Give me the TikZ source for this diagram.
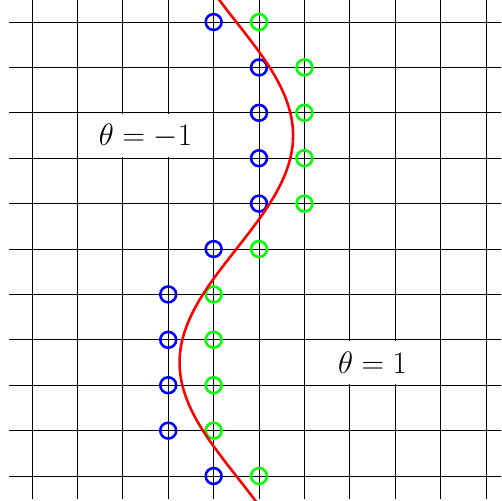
\RequirePackage{fix-cm}
\documentclass[tikz,border=0pt]{standalone}
\begin{document}
\begin{tikzpicture}[
  gridline/.style={line width=0.5pt, black},
  bdot/.style={circle, draw=blue, line width=1.6pt, minimum size=0.35cm, inner sep=0pt},
  gdot/.style={bdot, draw=green},
  lbl/.style={fill=white, font=\fontsize{19.5}{22}\selectfont, inner xsep=5pt, inner ysep=2pt, minimum height=0.93cm},
  curve/.style={red, line width=1.6pt}
]
\useasboundingbox (-0.705,-0.55) rectangle (10.33,10.485);
\clip (-0.705,-0.55) rectangle (10.33,10.485);
\draw[gridline] (-0.5,-0.5) grid (10.5,10.5);
\node[lbl] (tm) at (2.5,7.5) {$\theta=-1$};
\node[lbl] (tp) at (7.5,2.5) {$\theta=1$};
\foreach \r/\c in {0/4,1/3,2/3,3/3,4/3,5/4,6/5,7/5,8/5,9/5,10/4} {
  \node[bdot] (b\r) at (\c,\r) {};
  \node[gdot] (g\r) at (\c+1,\r) {};
}
\draw[curve, domain=-0.8:10.8, samples=150, variable=\y] plot ({4.5+1.25*sin(36*(\y-5))}, \y);
\end{tikzpicture}
\end{document}
